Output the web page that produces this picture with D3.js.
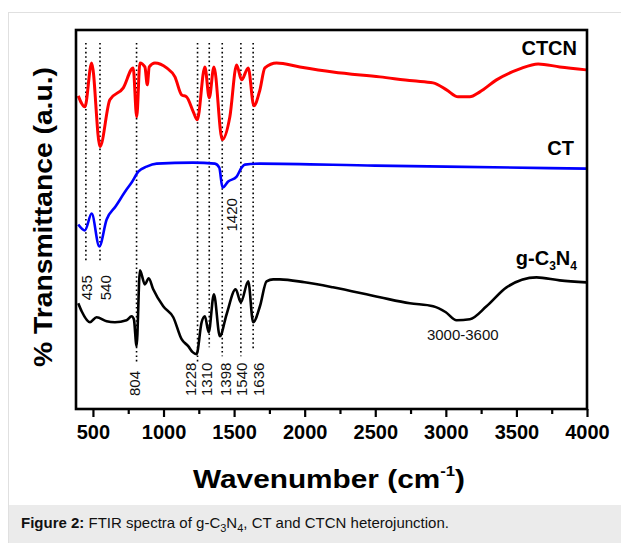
<!DOCTYPE html>
<html>
<head>
<meta charset="utf-8">
<script src="https://d3js.org/d3.v7.min.js"></script>
<style>
  body { margin: 0; background: #fff; }
  svg { display: block; font-family: "Liberation Sans", Arial, sans-serif; }
</style>
</head>
<body>
<svg id="chart" width="621" height="543"></svg>
<script>
  // spectra: [wavenumber, transmittance (a.u.)]
  const ctcn = [
    [396, 314], [443, 303], [491, 347], [550, 263], [620, 310], [715, 322], [785, 342],
    [810, 293], [833, 347], [868, 343], [885, 325], [899, 343], [939, 347], [1022, 342],
    [1081, 333], [1128, 315], [1163, 313], [1211, 298], [1239, 290], [1293, 343],
    [1324, 312], [1357, 343], [1416, 270], [1470, 293], [1518, 345], [1553, 330],
    [1600, 342], [1640, 304], [1683, 320], [1718, 342], [1801, 347], [1966, 343],
    [2200, 338], [2533, 333], [2768, 329], [2910, 327], [3005, 320], [3087, 313],
    [3170, 313], [3241, 318], [3359, 330], [3524, 341], [3654, 346], [3807, 343], [3996, 340]
  ];
  const ct = [
    [396, 185], [443, 179], [491, 196], [545, 163], [597, 190], [660, 203], [738, 220],
    [774, 227], [821, 238], [880, 243], [951, 246], [1210, 247], [1364, 246], [1395, 242],
    [1418, 222], [1458, 228], [1518, 233], [1553, 242], [1576, 245], [1683, 246],
    [2500, 244], [3000, 243], [3996, 241]
  ];
  const gcn = [
    [396, 106], [420, 98], [479, 87], [526, 92], [597, 88], [656, 87], [738, 89], [774, 93],
    [790, 90], [809, 63], [833, 139], [868, 125], [895, 131], [927, 120], [998, 103],
    [1069, 92], [1128, 70], [1175, 63], [1206, 57], [1234, 55], [1270, 87], [1293, 93],
    [1320, 77], [1357, 115], [1399, 73], [1447, 95], [1511, 120], [1548, 107], [1600, 128],
    [1635, 87], [1683, 103], [1730, 128], [1777, 130], [1824, 130], [2000, 127], [2200, 122],
    [2533, 112], [2745, 106], [2910, 103], [3000, 97], [3076, 89], [3170, 90], [3288, 103],
    [3430, 122], [3642, 132], [3807, 129], [3996, 127]
  ];

  // dotted guide lines: wavenumber, lower end (a.u.)
  const guideWn = [450, 550, 809, 1241, 1324, 1416, 1548, 1635];
  const guideEnd = [147, 147, 47, 47, 62, 53, 53, 60];

  // band labels: text, wavenumber position, baseline (a.u.)
  const bandText = ["435", "540", "804", "1228", "1310", "1398", "1540", "1636", "1420"];
  const bandWn = [461, 592, 797, 1194, 1311, 1442, 1559, 1676, 1482];
  const bandY = [109, 109, 13, 13, 13, 13, 13, 13, 178];

  const xTicks = [500, 1000, 1500, 2000, 2500, 3000, 3500, 4000];
  const xMinor = [750, 1250, 1750, 2250, 2750, 3250, 3750];

  const svg = d3.select("#chart");
  const W = 621, H = 543;
  const mLeft = 76, mRight = 587, mTop = 30, mBottom = 409;

  // figure frame + caption band
  svg.append("rect").attr("x", 8.5).attr("y", 12.5).attr("width", W).attr("height", H)
    .attr("fill", "#fff").attr("stroke", "#e0e0e0");
  svg.append("rect").attr("x", 9).attr("y", 505).attr("width", W).attr("height", H - 505)
    .attr("fill", "#ebebeb");
  const cap = svg.append("text").attr("x", 21).attr("y", 528)
    .attr("font-size", 15).attr("fill", "#111");
  cap.append("tspan").attr("font-weight", "bold").text("Figure 2:");
  cap.append("tspan").text(" FTIR spectra of g-C");
  cap.append("tspan").attr("font-size", 11).attr("dy", 4).text("3");
  cap.append("tspan").attr("dy", -4).text("N");
  cap.append("tspan").attr("font-size", 11).attr("dy", 4).text("4");
  cap.append("tspan").attr("dy", -4).text(", CT and CTCN heterojunction.");

  const x = d3.scaleLinear().domain([380, 4000]).range([mLeft, mRight]);
  const y = d3.scaleLinear().domain([0, 380]).range([mBottom, mTop]);

  // guides
  svg.append("g").selectAll("line").data(guideWn).join("line")
    .attr("x1", d => x(d)).attr("x2", d => x(d))
    .attr("y1", 43).attr("y2", (d, i) => y(guideEnd[i]))
    .attr("stroke", "#000").attr("stroke-width", 1.6)
    .attr("stroke-dasharray", "1.6,2.8");

  // spectra
  const line = d3.line().x(d => x(d[0])).y(d => y(d[1])).curve(d3.curveMonotoneX);
  svg.append("path").datum(gcn).attr("d", line).attr("fill", "none")
    .attr("stroke", "#000").attr("stroke-width", 2.6).attr("stroke-linejoin", "round");
  svg.append("path").datum(ct).attr("d", line).attr("fill", "none")
    .attr("stroke", "#0000ff").attr("stroke-width", 2.6).attr("stroke-linejoin", "round");
  svg.append("path").datum(ctcn).attr("d", line).attr("fill", "none")
    .attr("stroke", "#ff0000").attr("stroke-width", 3).attr("stroke-linejoin", "round");

  // band labels
  svg.append("g").selectAll("text").data(bandText).join("text")
    .attr("transform", (d, i) => `translate(${x(bandWn[i]) + 5},${y(bandY[i])}) rotate(-90)`)
    .attr("font-size", 15).attr("fill", "#111").text(d => d);

  svg.append("text").attr("x", x(3120)).attr("y", 340).attr("text-anchor", "middle")
    .attr("font-size", 15).attr("fill", "#111").text("3000-3600");

  // series names
  svg.append("text").attr("x", 577).attr("y", 55).attr("text-anchor", "end")
    .attr("font-size", 20).attr("font-weight", "bold").text("CTCN");
  svg.append("text").attr("x", 574).attr("y", 155).attr("text-anchor", "end")
    .attr("font-size", 20).attr("font-weight", "bold").text("CT");
  const g = svg.append("text").attr("x", 577).attr("y", 265).attr("text-anchor", "end")
    .attr("font-size", 20).attr("font-weight", "bold");
  g.append("tspan").text("g-C");
  g.append("tspan").attr("font-size", 12).attr("dy", 5).text("3");
  g.append("tspan").attr("dy", -5).text("N");
  g.append("tspan").attr("font-size", 12).attr("dy", 5).text("4");

  // axes
  const ax = svg.append("g").attr("transform", `translate(0,${mBottom})`)
    .call(d3.axisBottom(x).tickValues(xTicks).tickFormat(d3.format("d"))
      .tickSize(8).tickPadding(8).tickSizeOuter(0));
  ax.select(".domain").remove();
  ax.selectAll(".tick line").attr("stroke-width", 2.2);
  ax.selectAll("text").attr("font-size", 20).attr("font-weight", "bold")
    .attr("font-family", "Liberation Sans, Arial, sans-serif").attr("fill", "#000");
  const mi = svg.append("g").attr("transform", `translate(0,${mBottom})`)
    .call(d3.axisBottom(x).tickValues(xMinor).tickSize(5).tickFormat(""));
  mi.select(".domain").remove();
  mi.selectAll(".tick line").attr("stroke-width", 2.2);

  svg.append("rect").attr("x", mLeft).attr("y", mTop)
    .attr("width", mRight - mLeft).attr("height", mBottom - mTop)
    .attr("fill", "none").attr("stroke", "#000").attr("stroke-width", 2.6);

  const xt = svg.append("text").attr("x", 193).attr("y", 488)
    .attr("font-size", 25).attr("font-weight", "bold")
    .attr("textLength", 272).attr("lengthAdjust", "spacingAndGlyphs");
  xt.append("tspan").text("Wavenumber (cm");
  xt.append("tspan").attr("font-size", 14).attr("dy", -12).text("-1");
  xt.append("tspan").attr("dy", 12).text(")");

  svg.append("text").attr("transform", "translate(52,217) rotate(-90)")
    .attr("text-anchor", "middle").attr("font-size", 25).attr("font-weight", "bold")
    .attr("textLength", 300).attr("lengthAdjust", "spacingAndGlyphs")
    .text("% Transmittance (a.u.)");
</script>
</body>
</html>
